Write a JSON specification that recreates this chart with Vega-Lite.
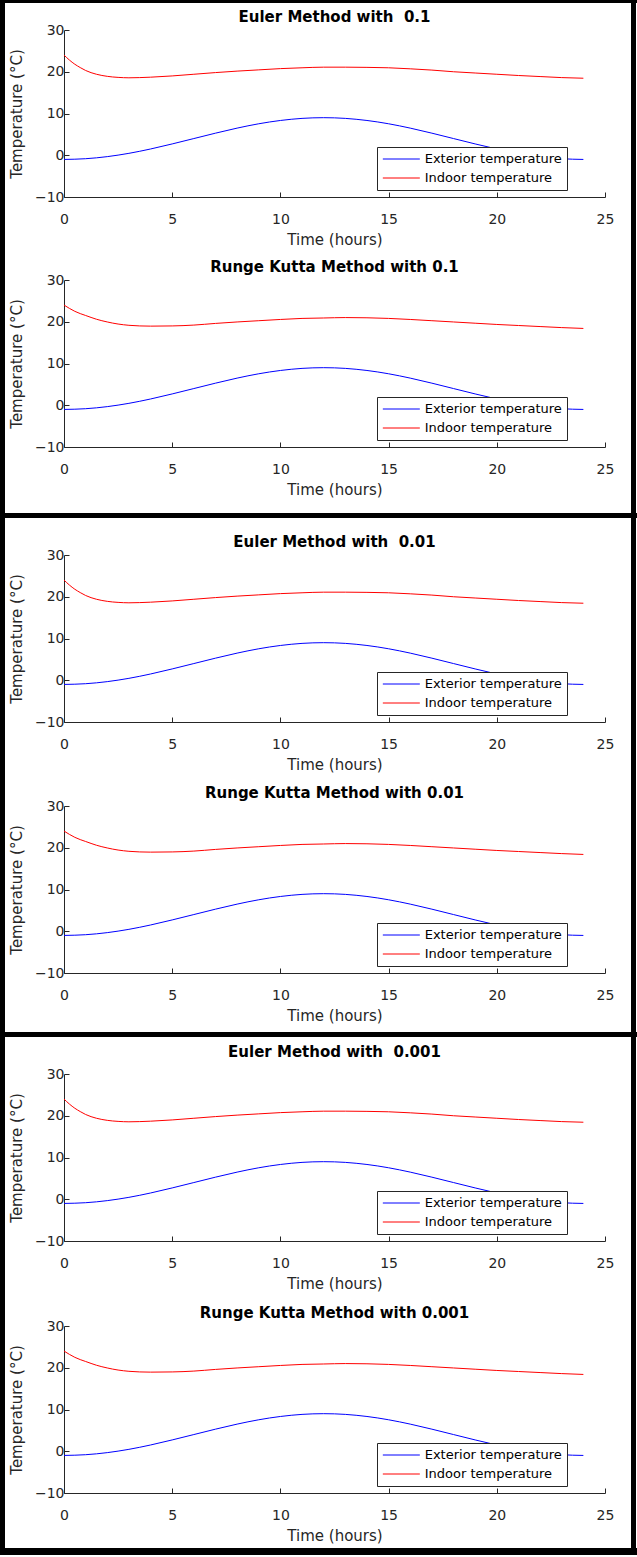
{
  "$schema": "https://vega.github.io/schema/vega-lite/v6.json",
  "padding": 0,
  "background": "white",
  "datasets": {
    "euler": [
      {"t": 0, "temp": -1, "series": "Exterior temperature"},
      {"t": 1, "temp": -0.83, "series": "Exterior temperature"},
      {"t": 2, "temp": -0.33, "series": "Exterior temperature"},
      {"t": 3, "temp": 0.46, "series": "Exterior temperature"},
      {"t": 4, "temp": 1.5, "series": "Exterior temperature"},
      {"t": 5, "temp": 2.71, "series": "Exterior temperature"},
      {"t": 6, "temp": 4, "series": "Exterior temperature"},
      {"t": 7, "temp": 5.29, "series": "Exterior temperature"},
      {"t": 8, "temp": 6.5, "series": "Exterior temperature"},
      {"t": 9, "temp": 7.54, "series": "Exterior temperature"},
      {"t": 10, "temp": 8.33, "series": "Exterior temperature"},
      {"t": 11, "temp": 8.83, "series": "Exterior temperature"},
      {"t": 12, "temp": 9, "series": "Exterior temperature"},
      {"t": 13, "temp": 8.83, "series": "Exterior temperature"},
      {"t": 14, "temp": 8.33, "series": "Exterior temperature"},
      {"t": 15, "temp": 7.54, "series": "Exterior temperature"},
      {"t": 16, "temp": 6.5, "series": "Exterior temperature"},
      {"t": 17, "temp": 5.29, "series": "Exterior temperature"},
      {"t": 18, "temp": 4, "series": "Exterior temperature"},
      {"t": 19, "temp": 2.71, "series": "Exterior temperature"},
      {"t": 20, "temp": 1.5, "series": "Exterior temperature"},
      {"t": 21, "temp": 0.46, "series": "Exterior temperature"},
      {"t": 22, "temp": -0.33, "series": "Exterior temperature"},
      {"t": 23, "temp": -0.83, "series": "Exterior temperature"},
      {"t": 24, "temp": -1, "series": "Exterior temperature"},
      {"t": 0, "temp": 24.0, "series": "Indoor temperature"},
      {"t": 0.25, "temp": 22.8, "series": "Indoor temperature"},
      {"t": 0.5, "temp": 21.8, "series": "Indoor temperature"},
      {"t": 0.75, "temp": 21.0, "series": "Indoor temperature"},
      {"t": 1, "temp": 20.3, "series": "Indoor temperature"},
      {"t": 1.5, "temp": 19.4, "series": "Indoor temperature"},
      {"t": 2, "temp": 18.9, "series": "Indoor temperature"},
      {"t": 2.5, "temp": 18.65, "series": "Indoor temperature"},
      {"t": 3, "temp": 18.55, "series": "Indoor temperature"},
      {"t": 3.5, "temp": 18.6, "series": "Indoor temperature"},
      {"t": 4, "temp": 18.7, "series": "Indoor temperature"},
      {"t": 5, "temp": 19.0, "series": "Indoor temperature"},
      {"t": 6, "temp": 19.4, "series": "Indoor temperature"},
      {"t": 7, "temp": 19.8, "series": "Indoor temperature"},
      {"t": 8, "temp": 20.15, "series": "Indoor temperature"},
      {"t": 9, "temp": 20.45, "series": "Indoor temperature"},
      {"t": 10, "temp": 20.75, "series": "Indoor temperature"},
      {"t": 11, "temp": 20.95, "series": "Indoor temperature"},
      {"t": 12, "temp": 21.1, "series": "Indoor temperature"},
      {"t": 13, "temp": 21.1, "series": "Indoor temperature"},
      {"t": 14, "temp": 21.05, "series": "Indoor temperature"},
      {"t": 15, "temp": 20.95, "series": "Indoor temperature"},
      {"t": 16, "temp": 20.7, "series": "Indoor temperature"},
      {"t": 17, "temp": 20.4, "series": "Indoor temperature"},
      {"t": 18, "temp": 20.0, "series": "Indoor temperature"},
      {"t": 19, "temp": 19.7, "series": "Indoor temperature"},
      {"t": 20, "temp": 19.4, "series": "Indoor temperature"},
      {"t": 21, "temp": 19.1, "series": "Indoor temperature"},
      {"t": 22, "temp": 18.85, "series": "Indoor temperature"},
      {"t": 23, "temp": 18.6, "series": "Indoor temperature"},
      {"t": 24, "temp": 18.45, "series": "Indoor temperature"}
    ],
    "rk": [
      {"t": 0, "temp": -1, "series": "Exterior temperature"},
      {"t": 1, "temp": -0.83, "series": "Exterior temperature"},
      {"t": 2, "temp": -0.33, "series": "Exterior temperature"},
      {"t": 3, "temp": 0.46, "series": "Exterior temperature"},
      {"t": 4, "temp": 1.5, "series": "Exterior temperature"},
      {"t": 5, "temp": 2.71, "series": "Exterior temperature"},
      {"t": 6, "temp": 4, "series": "Exterior temperature"},
      {"t": 7, "temp": 5.29, "series": "Exterior temperature"},
      {"t": 8, "temp": 6.5, "series": "Exterior temperature"},
      {"t": 9, "temp": 7.54, "series": "Exterior temperature"},
      {"t": 10, "temp": 8.33, "series": "Exterior temperature"},
      {"t": 11, "temp": 8.83, "series": "Exterior temperature"},
      {"t": 12, "temp": 9, "series": "Exterior temperature"},
      {"t": 13, "temp": 8.83, "series": "Exterior temperature"},
      {"t": 14, "temp": 8.33, "series": "Exterior temperature"},
      {"t": 15, "temp": 7.54, "series": "Exterior temperature"},
      {"t": 16, "temp": 6.5, "series": "Exterior temperature"},
      {"t": 17, "temp": 5.29, "series": "Exterior temperature"},
      {"t": 18, "temp": 4, "series": "Exterior temperature"},
      {"t": 19, "temp": 2.71, "series": "Exterior temperature"},
      {"t": 20, "temp": 1.5, "series": "Exterior temperature"},
      {"t": 21, "temp": 0.46, "series": "Exterior temperature"},
      {"t": 22, "temp": -0.33, "series": "Exterior temperature"},
      {"t": 23, "temp": -0.83, "series": "Exterior temperature"},
      {"t": 24, "temp": -1, "series": "Exterior temperature"},
      {"t": 0, "temp": 24.0, "series": "Indoor temperature"},
      {"t": 0.25, "temp": 23.2, "series": "Indoor temperature"},
      {"t": 0.5, "temp": 22.5, "series": "Indoor temperature"},
      {"t": 0.75, "temp": 21.95, "series": "Indoor temperature"},
      {"t": 1, "temp": 21.5, "series": "Indoor temperature"},
      {"t": 1.5, "temp": 20.6, "series": "Indoor temperature"},
      {"t": 2, "temp": 19.95, "series": "Indoor temperature"},
      {"t": 2.5, "temp": 19.45, "series": "Indoor temperature"},
      {"t": 3, "temp": 19.15, "series": "Indoor temperature"},
      {"t": 3.5, "temp": 19.0, "series": "Indoor temperature"},
      {"t": 4, "temp": 18.95, "series": "Indoor temperature"},
      {"t": 5, "temp": 19.0, "series": "Indoor temperature"},
      {"t": 6, "temp": 19.2, "series": "Indoor temperature"},
      {"t": 7, "temp": 19.6, "series": "Indoor temperature"},
      {"t": 8, "temp": 19.95, "series": "Indoor temperature"},
      {"t": 9, "temp": 20.25, "series": "Indoor temperature"},
      {"t": 10, "temp": 20.55, "series": "Indoor temperature"},
      {"t": 11, "temp": 20.8, "series": "Indoor temperature"},
      {"t": 12, "temp": 20.9, "series": "Indoor temperature"},
      {"t": 13, "temp": 21.0, "series": "Indoor temperature"},
      {"t": 14, "temp": 20.95, "series": "Indoor temperature"},
      {"t": 15, "temp": 20.8, "series": "Indoor temperature"},
      {"t": 16, "temp": 20.55, "series": "Indoor temperature"},
      {"t": 17, "temp": 20.25, "series": "Indoor temperature"},
      {"t": 18, "temp": 19.95, "series": "Indoor temperature"},
      {"t": 19, "temp": 19.65, "series": "Indoor temperature"},
      {"t": 20, "temp": 19.35, "series": "Indoor temperature"},
      {"t": 21, "temp": 19.1, "series": "Indoor temperature"},
      {"t": 22, "temp": 18.85, "series": "Indoor temperature"},
      {"t": 23, "temp": 18.6, "series": "Indoor temperature"},
      {"t": 24, "temp": 18.4, "series": "Indoor temperature"}
    ]
  },
  "spacing": 0,
  "resolve": {"legend": {"color": "independent"}},
  "vconcat": [
    {"width": 637, "height": 3, "data": {"values": []}, "mark": "point", "encoding": {}, "view": {"fill": "black", "stroke": null}},
    {
      "spacing": 0,
      "resolve": {"legend": {"color": "independent"}},
      "hconcat": [
        {"width": 5, "height": 510, "data": {"values": []}, "mark": "point", "encoding": {}, "view": {"fill": "black", "stroke": null}},
        {"width": 4, "height": 1, "data": {"values": []}, "mark": "point", "encoding": {}, "view": {"stroke": null}},
        {
          "spacing": 0,
          "resolve": {"legend": {"color": "independent"}},
          "vconcat": [
            {"width": 1, "height": 7, "data": {"values": []}, "mark": "point", "encoding": {}, "view": {"stroke": null}},
            {
              "title": "Euler Method with\u00a0 0.1",
              "width": 541, "height": 167,
              "data": {"name": "euler"},
              "mark": {"type": "line", "strokeWidth": 1, "interpolate": "monotone"},
              "encoding": {
                "x": {"field": "t", "type": "quantitative", "title": "Time (hours)", "scale": {"domain": [0, 25], "nice": false, "zero": false}, "axis": {"values": [0, 5, 10, 15, 20, 25]}},
                "y": {"field": "temp", "type": "quantitative", "title": "Temperature (°C)", "scale": {"domain": [-10, 30], "nice": false}, "axis": {"values": [-10, 0, 10, 20, 30]}},
                "color": {"field": "series", "type": "nominal", "scale": {"domain": ["Exterior temperature", "Indoor temperature"], "range": ["#0000ff", "#ff0000"]}, "legend": {"orient": "none", "legendX": 313, "legendY": 117}}
              }
            },
            {"width": 1, "height": 13, "data": {"values": []}, "mark": "point", "encoding": {}, "view": {"stroke": null}},
            {
              "title": "Runge Kutta Method with 0.1",
              "width": 541, "height": 167,
              "data": {"name": "rk"},
              "mark": {"type": "line", "strokeWidth": 1, "interpolate": "monotone"},
              "encoding": {
                "x": {"field": "t", "type": "quantitative", "title": "Time (hours)", "scale": {"domain": [0, 25], "nice": false, "zero": false}, "axis": {"values": [0, 5, 10, 15, 20, 25]}},
                "y": {"field": "temp", "type": "quantitative", "title": "Temperature (°C)", "scale": {"domain": [-10, 30], "nice": false}, "axis": {"values": [-10, 0, 10, 20, 30]}},
                "color": {"field": "series", "type": "nominal", "scale": {"domain": ["Exterior temperature", "Indoor temperature"], "range": ["#0000ff", "#ff0000"]}, "legend": {"orient": "none", "legendX": 313, "legendY": 117}}
              }
            }
          ]
        },
        {"width": 17, "height": 1, "data": {"values": []}, "mark": "point", "encoding": {}, "view": {"stroke": null}},
        {"width": 5, "height": 510, "data": {"values": []}, "mark": "point", "encoding": {}, "view": {"fill": "black", "stroke": null}}
      ]
    },
    {"width": 637, "height": 5, "data": {"values": []}, "mark": "point", "encoding": {}, "view": {"fill": "black", "stroke": null}},
    {
      "spacing": 0,
      "resolve": {"legend": {"color": "independent"}},
      "hconcat": [
        {"width": 5, "height": 514, "data": {"values": []}, "mark": "point", "encoding": {}, "view": {"fill": "black", "stroke": null}},
        {"width": 4, "height": 1, "data": {"values": []}, "mark": "point", "encoding": {}, "view": {"stroke": null}},
        {
          "spacing": 0,
          "resolve": {"legend": {"color": "independent"}},
          "vconcat": [
            {"width": 1, "height": 17, "data": {"values": []}, "mark": "point", "encoding": {}, "view": {"stroke": null}},
            {
              "title": "Euler Method with\u00a0 0.01",
              "width": 541, "height": 167,
              "data": {"name": "euler"},
              "mark": {"type": "line", "strokeWidth": 1, "interpolate": "monotone"},
              "encoding": {
                "x": {"field": "t", "type": "quantitative", "title": "Time (hours)", "scale": {"domain": [0, 25], "nice": false, "zero": false}, "axis": {"values": [0, 5, 10, 15, 20, 25]}},
                "y": {"field": "temp", "type": "quantitative", "title": "Temperature (°C)", "scale": {"domain": [-10, 30], "nice": false}, "axis": {"values": [-10, 0, 10, 20, 30]}},
                "color": {"field": "series", "type": "nominal", "scale": {"domain": ["Exterior temperature", "Indoor temperature"], "range": ["#0000ff", "#ff0000"]}, "legend": {"orient": "none", "legendX": 313, "legendY": 117}}
              }
            },
            {"width": 1, "height": 14, "data": {"values": []}, "mark": "point", "encoding": {}, "view": {"stroke": null}},
            {
              "title": "Runge Kutta Method with 0.01",
              "width": 541, "height": 167,
              "data": {"name": "rk"},
              "mark": {"type": "line", "strokeWidth": 1, "interpolate": "monotone"},
              "encoding": {
                "x": {"field": "t", "type": "quantitative", "title": "Time (hours)", "scale": {"domain": [0, 25], "nice": false, "zero": false}, "axis": {"values": [0, 5, 10, 15, 20, 25]}},
                "y": {"field": "temp", "type": "quantitative", "title": "Temperature (°C)", "scale": {"domain": [-10, 30], "nice": false}, "axis": {"values": [-10, 0, 10, 20, 30]}},
                "color": {"field": "series", "type": "nominal", "scale": {"domain": ["Exterior temperature", "Indoor temperature"], "range": ["#0000ff", "#ff0000"]}, "legend": {"orient": "none", "legendX": 313, "legendY": 117}}
              }
            }
          ]
        },
        {"width": 17, "height": 1, "data": {"values": []}, "mark": "point", "encoding": {}, "view": {"stroke": null}},
        {"width": 5, "height": 514, "data": {"values": []}, "mark": "point", "encoding": {}, "view": {"fill": "black", "stroke": null}}
      ]
    },
    {"width": 637, "height": 5, "data": {"values": []}, "mark": "point", "encoding": {}, "view": {"fill": "black", "stroke": null}},
    {
      "spacing": 0,
      "resolve": {"legend": {"color": "independent"}},
      "hconcat": [
        {"width": 5, "height": 511, "data": {"values": []}, "mark": "point", "encoding": {}, "view": {"fill": "black", "stroke": null}},
        {"width": 4, "height": 1, "data": {"values": []}, "mark": "point", "encoding": {}, "view": {"stroke": null}},
        {
          "spacing": 0,
          "resolve": {"legend": {"color": "independent"}},
          "vconcat": [
            {"width": 1, "height": 8, "data": {"values": []}, "mark": "point", "encoding": {}, "view": {"stroke": null}},
            {
              "title": {"text": "Euler Method with\u00a0 0.001", "offset": 7},
              "width": 541, "height": 167,
              "data": {"name": "euler"},
              "mark": {"type": "line", "strokeWidth": 1, "interpolate": "monotone"},
              "encoding": {
                "x": {"field": "t", "type": "quantitative", "title": "Time (hours)", "scale": {"domain": [0, 25], "nice": false, "zero": false}, "axis": {"values": [0, 5, 10, 15, 20, 25]}},
                "y": {"field": "temp", "type": "quantitative", "title": "Temperature (°C)", "scale": {"domain": [-10, 30], "nice": false}, "axis": {"values": [-10, 0, 10, 20, 30]}},
                "color": {"field": "series", "type": "nominal", "scale": {"domain": ["Exterior temperature", "Indoor temperature"], "range": ["#0000ff", "#ff0000"]}, "legend": {"orient": "none", "legendX": 313, "legendY": 117}}
              }
            },
            {"width": 1, "height": 15, "data": {"values": []}, "mark": "point", "encoding": {}, "view": {"stroke": null}},
            {
              "title": "Runge Kutta Method with 0.001",
              "width": 541, "height": 167,
              "data": {"name": "rk"},
              "mark": {"type": "line", "strokeWidth": 1, "interpolate": "monotone"},
              "encoding": {
                "x": {"field": "t", "type": "quantitative", "title": "Time (hours)", "scale": {"domain": [0, 25], "nice": false, "zero": false}, "axis": {"values": [0, 5, 10, 15, 20, 25]}},
                "y": {"field": "temp", "type": "quantitative", "title": "Temperature (°C)", "scale": {"domain": [-10, 30], "nice": false}, "axis": {"values": [-10, 0, 10, 20, 30]}},
                "color": {"field": "series", "type": "nominal", "scale": {"domain": ["Exterior temperature", "Indoor temperature"], "range": ["#0000ff", "#ff0000"]}, "legend": {"orient": "none", "legendX": 313, "legendY": 117}}
              }
            }
          ]
        },
        {"width": 17, "height": 1, "data": {"values": []}, "mark": "point", "encoding": {}, "view": {"stroke": null}},
        {"width": 5, "height": 511, "data": {"values": []}, "mark": "point", "encoding": {}, "view": {"fill": "black", "stroke": null}}
      ]
    },
    {"width": 637, "height": 7, "data": {"values": []}, "mark": "point", "encoding": {}, "view": {"fill": "black", "stroke": null}}
  ],
  "config": {
    "font": "DejaVu Sans",
    "view": {"stroke": null},
    "axis": {
      "grid": false,
      "domainColor": "#262626",
      "domainWidth": 1,
      "tickColor": "#262626",
      "tickWidth": 1,
      "tickSize": -5,
      "labelColor": "#262626",
      "labelFont": "DejaVu Sans",
      "labelFontSize": 14,
      "labelFlush": false,
      "labelOverlap": false,
      "titleColor": "#262626",
      "titleFont": "DejaVu Sans",
      "titleFontSize": 15,
      "titleFontWeight": "normal"
    },
    "axisX": {"labelPadding": 20, "titlePadding": 6},
    "axisY": {"labelPadding": 5, "titlePadding": 10},
    "title": {"font": "DejaVu Sans", "fontSize": 15, "fontWeight": "bold", "color": "black", "offset": -2, "anchor": "middle"},
    "legend": {
      "title": null,
      "symbolType": "M-1,0L5,0",
      "symbolSize": 152,
      "symbolStrokeWidth": 1,
      "labelFont": "DejaVu Sans",
      "labelFontSize": 13,
      "labelColor": "black",
      "labelLimit": 300,
      "labelOffset": 28.7,
      "strokeColor": "#262626",
      "fillColor": "white",
      "padding": 5,
      "rowPadding": 5
    }
  }
}
